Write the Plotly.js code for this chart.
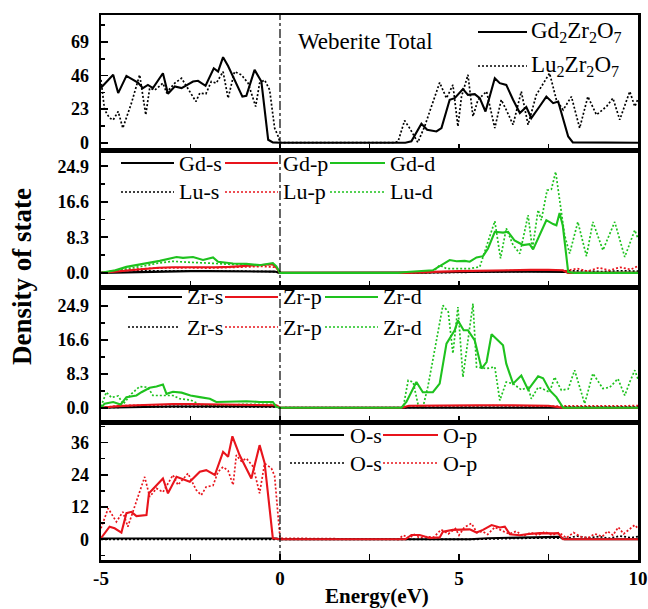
<!DOCTYPE html>
<html>
<head>
<meta charset="utf-8">
<script src="https://cdn.plot.ly/plotly-3.0.1.min.js"></script>
<style>html,body{margin:0;padding:0;background:#fff;}#chart{width:648px;height:609px;}</style>
</head>
<body>
<div id="chart"></div>
<script>
// ---------- Panel 1: total DOS ----------
const gdTot_x = [-5,-4.66,-4.52,-4.29,-3.97,-3.83,-3.69,-3.55,-3.27,-3.13,-2.94,-2.75,-2.43,-2.29,-2.08,-1.85,-1.73,-1.59,-1.45,-1.27,-1.05,-0.94,-0.71,-0.52,-0.33,-0.2,0,3.5,3.67,3.95,4.11,4.37,4.51,4.74,4.88,5.11,5.25,5.44,5.58,5.74,6.0,6.14,6.32,6.51,6.70,6.88,7.02,7.25,7.44,7.63,7.77,8.05,8.18,10];
const gdTot_y = [37.6,46.5,34,45.8,41.2,37.4,39.6,37.4,47.6,33.5,38.5,37.4,41.9,42.4,39,51,48.7,58.6,52.6,43.5,31.6,32.1,49.9,41.9,2,0.2,0,0,0.9,13,8.9,7.7,10,29.4,30.5,36.7,32.8,33.3,30.5,21.4,44.2,40.8,39.6,29.4,20.3,24.4,16.9,24.8,31.6,27.1,28.2,4.3,0.2,0];
const luTot_x = [-5,-4.9,-4.76,-4.66,-4.52,-4.39,-4.15,-3.92,-3.75,-3.64,-3.5,-3.27,-3.17,-2.94,-2.75,-2.57,-2.35,-2.24,-2.07,-1.92,-1.78,-1.59,-1.45,-1.27,-1.08,-0.89,-0.68,-0.57,-0.43,-0.29,-0.15,-0.05,0,3.2,3.30,3.48,3.62,3.85,4.04,4.23,4.46,4.65,4.83,4.97,5.07,5.25,5.39,5.53,5.77,6.0,6.18,6.32,6.51,6.74,6.93,7.16,7.35,7.53,7.72,7.91,8.14,8.37,8.60,8.84,9.12,9.30,9.49,9.77,9.91,10];
const luTot_y = [43,22.5,16.9,15.6,21.4,10,27.1,46.5,19.1,37.4,36,40.8,34.4,40.8,44.2,37.4,28.2,34,33.5,41.9,40.8,48.7,30.5,48.7,46.5,40.8,24.8,40.8,43,36.2,10,4.3,0,0,0.9,15.2,10,0.2,11.1,24.8,41.2,30.5,39.6,11.1,31.6,46.5,18,29.4,35.1,10,29.4,22.5,12.3,35.1,12.3,32.8,40.8,47.6,29.4,22.5,31.6,10,31.6,19.1,24.8,30.5,15.7,35.1,24.8,30];

// ---------- Panel 2: Gd / Lu ----------
const gdS_x = [-5,-4.5,-4,-3.5,-3,-2.5,-2,-1.5,-1,-0.5,-0.15,0,3.5,4,5,6,7,8,8.1,10];
const gdS_y = [0,0.1,0.2,0.3,0.4,0.4,0.4,0.35,0.3,0.3,0.3,0,0,0.1,0.2,0.3,0.3,0.2,0,0];
const gdP_x = [-5,-4.6,-4.2,-3.8,-3.4,-3.0,-2.6,-2.2,-1.8,-1.4,-1.0,-0.6,-0.2,-0.1,0,3.5,4.0,4.5,5.0,5.5,6.0,6.5,7.0,7.5,7.9,8.05,10];
const gdP_y = [0,0.3,0.7,1.0,1.2,1.3,1.3,1.2,1.3,1.4,1.6,1.8,2.0,1.2,0,0,0.2,0.3,0.4,0.5,0.6,0.6,0.7,0.7,0.6,0,0];
const gdD_x = [-5,-4.6,-4.29,-3.8,-3.36,-2.89,-2.71,-2.43,-2.15,-1.87,-1.73,-1.31,-0.94,-0.57,-0.2,-0.1,0,3.3,3.53,4.27,4.74,4.93,5.16,5.30,5.49,5.67,5.81,6.0,6.23,6.37,6.55,6.79,6.97,7.07,7.44,7.63,7.72,7.81,7.9,8.05,8.2,10];
const gdD_y = [0,0.6,1.4,2.1,2.8,3.7,3.5,3.7,3.0,3.6,2.6,2.2,2.1,1.8,2.3,1.5,0,0,0.2,0.6,3.0,2.7,2.8,2.6,3.6,3.9,5.7,9.6,9.4,9.6,7.6,6.5,6.7,5.5,12.3,11.4,11.1,14.0,11,0.2,0,0];
const luS_x = [-5,-4.5,-4,-3,-2,-1,-0.2,0,4,5,6,7,8,8.5,9,9.5,10];
const luS_y = [0,0.6,0.5,0.5,0.4,0.4,0.3,0,0,0.1,0.2,0.2,0.3,0.5,0.3,0.5,0.4];
const luP_x = [-5,-4.5,-4,-3.5,-3,-2.5,-2,-1.5,-1,-0.5,-0.1,0,4,4.5,5,5.5,6,6.5,7,7.5,8,8.3,8.6,8.9,9.2,9.5,9.8,10];
const luP_y = [0,0.5,0.9,1.1,1.2,1.2,1.1,1.2,1.3,1.5,1.3,0,0,0.2,0.3,0.4,0.5,0.5,0.6,0.6,0.5,1.0,0.4,1.2,0.6,1.3,0.8,1.6];
const luD_x = [-5,-4.6,-4.2,-3.8,-3.4,-3.0,-2.6,-2.2,-1.8,-1.4,-1.0,-0.6,-0.2,-0.1,0,4.0,4.27,4.46,4.65,4.93,5.30,5.58,5.77,6.0,6.16,6.32,6.51,6.70,6.93,7.05,7.21,7.30,7.46,7.58,7.70,7.81,7.95,8.09,8.32,8.56,8.74,9.02,9.35,9.63,9.91,10];
const luD_y = [0,0.5,1.0,1.6,2.3,2.7,2.5,2.4,2.2,2.0,1.9,1.8,2.0,1.2,0,0,0.2,1.8,1.0,1.0,1.0,1.4,6.1,12.1,3.4,10.4,6.5,4.5,13.5,5.5,14.7,12.3,19.3,19.5,23.6,16.6,8.8,4.5,11.9,3.9,11.9,5.3,11.9,3.7,10,8];

// ---------- Panel 3: Zr ----------
const zrS_x = [-5,-4,-3,-2,-1,-0.1,0,3.5,5,7,7.9,10];
const zrS_y = [0,0.2,0.3,0.3,0.3,0.3,0,0,0.1,0.1,0,0];
const zrP_x = [-5,-4.5,-4,-3.5,-3,-2.5,-2,-1.5,-1,-0.5,-0.1,0,3.4,3.6,4.5,5.5,6.5,7.5,7.9,10];
const zrP_y = [0,0.4,0.6,0.8,0.9,0.9,0.8,0.7,0.6,0.6,0.6,0,0,0.5,0.6,0.6,0.6,0.5,0,0];
const zrD_x = [-5,-4.9,-4.66,-4.45,-4.29,-4.01,-3.87,-3.64,-3.45,-3.27,-3.17,-2.99,-2.75,-2.5,-2.24,-1.96,-1.78,-1.31,-0.94,-0.57,-0.2,-0.1,0,3.39,3.53,3.81,3.99,4.27,4.46,4.65,4.88,4.97,5.13,5.25,5.44,5.63,5.77,5.91,6.04,6.23,6.32,6.51,6.74,6.93,7.21,7.35,7.53,7.72,7.91,10];
const zrD_y = [0,1.0,1.4,0.8,2.6,3.0,3.8,4.9,5.2,5.7,3.4,3.9,3.7,3.0,2.6,2.2,1.4,1.6,1.6,1.4,1.4,0.2,0,0,1.4,6.3,3.8,3.8,5.9,15.7,19.0,21.4,19.0,19.0,16.5,9.6,11.2,18.0,17.0,15.3,10.8,5.9,7.9,4.4,7.7,7.2,4.3,2.6,0,0];
const luZrS_x = [-5,-4,-3,-2,-1,-0.1,0,3.5,5,7,8,9,10];
const luZrS_y = [0,0.2,0.2,0.2,0.2,0.2,0,0,0.1,0.1,0.2,0.2,0.2];
const luZrP_x = [-5,-4.5,-4,-3.5,-3,-2.5,-2,-1.5,-1,-0.5,-0.1,0,3.5,4,5,6,7,8,9,10];
const luZrP_y = [0,0.5,0.6,0.7,0.7,0.7,0.6,0.5,0.5,0.5,0.5,0,0,0.4,0.5,0.5,0.4,0.4,0.4,0.5];
const luZrD_x = [-5,-4.85,-4.71,-4.52,-4.38,-4.15,-3.92,-3.69,-3.55,-3.27,-2.99,-2.8,-2.5,-2.24,-1.78,-1.05,-0.2,-0.1,0,3.44,3.58,3.72,3.86,3.99,4.13,4.37,4.55,4.70,4.83,4.97,5.11,5.25,5.39,5.49,5.77,6.0,6.14,6.32,6.51,6.74,6.93,7.02,7.21,7.35,7.53,7.67,7.86,8.05,8.23,8.51,8.74,9.02,9.21,9.44,9.63,9.77,9.91,10];
const luZrD_y = [0.3,3.8,2.5,2.9,0.9,3.4,5.2,5.0,3.0,3.0,3.0,2.2,1.9,0.8,0.5,0.8,0.8,0.4,0,0,6.7,6.3,0.6,0,5.1,16.5,25.1,23.5,13.3,24.7,7.5,16.5,25.5,10,9.6,10,1.8,6.3,5.9,4.4,5.0,2.2,5.0,4.6,3.8,7.5,4.3,4.6,9.2,1.0,8.4,4.7,5.0,7.1,3.0,6.3,9.2,7];

// ---------- Panel 4: O ----------
const osG_x = [-5,-0.1,0,5.3,5.8,6.5,7.2,7.8,7.95,10];
const osG_y = [0.3,0.3,0,0,0.4,0.6,0.9,0.9,0,0];
const opG_x = [-5,-4.76,-4.62,-4.43,-4.29,-4.15,-4.01,-3.73,-3.66,-3.27,-3.13,-2.89,-2.52,-2.24,-2.06,-1.82,-1.59,-1.45,-1.33,-1.13,-0.80,-0.57,-0.43,-0.2,0,3.5,3.67,3.9,4.18,4.46,4.55,4.83,5.30,5.49,5.67,5.91,6.14,6.28,6.42,6.70,6.88,7.25,7.63,7.77,7.91,10];
const opG_y = [0.4,4.7,4.1,2.5,9.7,10.2,8.6,9.0,17.1,22.6,17.1,23.2,21.4,25.1,25.7,23.9,32.5,30.7,38.3,31.3,22.6,35.0,28.4,0.4,0,0,1.6,1.6,0.5,0.7,2.8,3.5,3.7,2.5,3.5,5.3,4.4,4.7,1.9,1.5,1.9,2.3,2.2,2.3,0,0];
const osL_x = [-5,-0.1,0,5.5,6.5,7.5,8.0,8.3,8.6,8.9,9.2,9.5,9.8,10];
const osL_y = [0,0,0,0,0.3,0.5,0.3,1.2,0.5,1.0,0.4,1.2,0.6,1.0];
const opL_x = [-5,-4.8,-4.57,-4.39,-4.25,-4.06,-3.87,-3.78,-3.64,-3.45,-3.27,-2.99,-2.85,-2.57,-2.34,-2.2,-2.06,-1.87,-1.73,-1.59,-1.45,-1.31,-1.22,-1.08,-0.94,-0.75,-0.57,-0.43,-0.24,-0.15,0,3.3,3.45,3.6,3.75,3.9,4.1,4.3,4.5,4.7,4.9,5.0,5.15,5.35,5.5,5.65,5.8,6.0,6.2,6.4,6.6,6.8,7.0,7.2,7.4,7.6,7.8,8.0,8.2,8.4,8.6,8.8,9.0,9.15,9.3,9.45,9.6,9.75,9.91,10];
const opL_y = [4.1,11.5,6.5,10.2,4.7,12.1,18.9,23.2,15.8,18.9,17.5,23.9,20.2,24.5,18.3,16.4,19.5,20.0,25.1,26.9,25.5,20.2,31.3,29.0,30.1,27.0,17.1,28.2,26.4,23.5,0.4,0,1.5,0.4,1.8,0.5,1.0,0.8,3.6,2.0,4.0,1.5,4.5,5.9,2.5,3.0,1.8,4.5,3.2,2.0,3.0,1.2,2.5,1.5,2.8,1.5,2.5,0.5,2.5,1.0,0.5,2.0,1.0,3.0,1.5,4.5,2.0,3.5,5.3,4];

// ---------- tick labels ----------
const xTickVals = [-5,0,5,10];
const xTickText = ['-5','0','5','10'];
const y1Ticks = [0,23,46,69];
const y23Ticks = [0,8.3,16.6,24.9];
const y23Text = ['0.0','8.3','16.6','24.9'];
const y4Ticks = [0,12,24,36];

// ---------- styling ----------
const BLACK = '#000000', RED = '#e8141c', GREEN = '#1ec21e';
const SERIF = 'Liberation Serif, Times New Roman, serif';
const DOT = '2px,2px';

function tr(x, y, color, dotted, ax) {
  return {x: x, y: y, type: 'scatter', mode: 'lines', xaxis: 'x' + ax, yaxis: 'y' + ax,
    line: {color: color, width: dotted ? 1.7 : 2.1, dash: dotted ? DOT : 'solid'},
    showlegend: false, hoverinfo: 'skip'};
}

const data = [
  tr(luTot_x, luTot_y, BLACK, true, ''), tr(gdTot_x, gdTot_y, BLACK, false, ''),
  tr(luS_x, luS_y, BLACK, true, 2), tr(luP_x, luP_y, RED, true, 2), tr(luD_x, luD_y, GREEN, true, 2),
  tr(gdS_x, gdS_y, BLACK, false, 2), tr(gdP_x, gdP_y, RED, false, 2), tr(gdD_x, gdD_y, GREEN, false, 2),
  tr(luZrS_x, luZrS_y, BLACK, true, 3), tr(luZrP_x, luZrP_y, RED, true, 3), tr(luZrD_x, luZrD_y, GREEN, true, 3),
  tr(zrS_x, zrS_y, BLACK, false, 3), tr(zrP_x, zrP_y, RED, false, 3), tr(zrD_x, zrD_y, GREEN, false, 3),
  tr(osL_x, osL_y, BLACK, true, 4), tr(opL_x, opL_y, RED, true, 4),
  tr(osG_x, osG_y, BLACK, false, 4), tr(opG_x, opG_y, RED, false, 4)
];

const tickFont = {family: SERIF, size: 18, color: BLACK, weight: 'bold'};

function xAxis(anchor, labels) {
  return {range: [-5, 10], anchor: anchor, showline: true, mirror: true, linewidth: 2.5, linecolor: BLACK,
    ticks: 'inside', ticklen: 6, tickwidth: 1.8, tickcolor: BLACK,
    tickmode: 'array', tickvals: xTickVals, ticktext: xTickText,
    minor: {ticks: 'inside', ticklen: 6, tickwidth: 1.8, tickcolor: BLACK, dtick: 2.5, tick0: 0, showgrid: false},
    showticklabels: labels, tickfont: {family: SERIF, size: 19, color: BLACK, weight: 'bold'},
    showgrid: false, zeroline: false, fixedrange: true};
}
function yAxis(domain, range, vals, text, minorStep, anchor) {
  return {domain: domain, range: range, anchor: anchor, showline: true, mirror: true,
    linewidth: 2.5, linecolor: BLACK, ticks: 'inside', ticklen: 7, tickwidth: 1.8, tickcolor: BLACK,
    tickmode: 'array', tickvals: vals, ticktext: text, tickfont: tickFont, ticklabelstandoff: 6,
    minor: {ticks: 'inside', ticklen: 4, tickwidth: 1.5, tickcolor: BLACK, dtick: minorStep, tick0: 0, showgrid: false},
    showgrid: false, zeroline: false, fixedrange: true};
}

// pixel -> paper helpers for legend decorations
const PL = 101, PR = 638, PT = 15, PB = 560;
const px = v => (v - PL) / (PR - PL);
const py = v => (PB - v) / (PB - PT);

const shapes = [];
const annotations = [];
const LEGSIZE = 22;
function legLine(x0, x1, y, color, dotted) {
  shapes.push({type: 'line', xref: 'paper', yref: 'paper', x0: px(x0), x1: px(x1), y0: py(y), y1: py(y),
    line: {color: color, width: dotted ? 1.7 : 2.1, dash: dotted ? DOT : 'solid'}});
}
function legText(x, y, text, size) {
  annotations.push({xref: 'paper', yref: 'paper', x: px(x), y: py(y), xanchor: 'left', yanchor: 'middle',
    text: text, showarrow: false, font: {family: SERIF, size: size || LEGSIZE, color: BLACK}});
}

// vertical dash-dot Fermi line
shapes.push({type: 'line', xref: 'x', yref: 'paper', x0: 0, x1: 0, y0: 0, y1: 1,
  line: {color: BLACK, width: 1.2, dash: 'dashdot'}});

// panel 1 legend
legLine(478, 527, 32, BLACK, false); legText(529, 32, 'Gd<sub>2</sub>Zr<sub>2</sub>O<sub>7</sub>', 23);
legLine(478, 527, 66, BLACK, true);  legText(529, 66, 'Lu<sub>2</sub>Zr<sub>2</sub>O<sub>7</sub>', 23);
legText(296, 41, 'Weberite Total', 23);
// panel 2 legend
legLine(121, 174, 163, BLACK, false); legText(177, 163, 'Gd-s');
legLine(225, 278, 163, RED, false);   legText(281, 163, 'Gd-p');
legLine(330, 385, 163, GREEN, false); legText(388, 163, 'Gd-d');
legLine(121, 174, 192, BLACK, true);  legText(177, 192, 'Lu-s');
legLine(225, 278, 192, RED, true);    legText(281, 192, 'Lu-p');
legLine(330, 385, 192, GREEN, true);  legText(388, 192, 'Lu-d');
// panel 3 legend
legLine(128, 182, 297, BLACK, false); legText(185, 297, 'Zr-s');
legLine(225, 278, 297, RED, false);   legText(281, 297, 'Zr-p');
legLine(325, 378, 297, GREEN, false); legText(381, 297, 'Zr-d');
legLine(128, 180, 327, BLACK, true);  legText(185, 327, 'Zr-s');
legLine(225, 278, 327, RED, true);    legText(281, 327, 'Zr-p');
legLine(325, 378, 327, GREEN, true);  legText(381, 327, 'Zr-d');
// panel 4 legend
legLine(290, 344, 435, BLACK, false); legText(348, 435, 'O-s');
legLine(383, 438, 435, RED, false);   legText(441, 435, 'O-p');
legLine(290, 344, 463, BLACK, true);  legText(348, 463, 'O-s');
legLine(383, 438, 463, RED, true);    legText(441, 463, 'O-p');

// axis titles
annotations.push({xref: 'paper', yref: 'paper', x: px(22), y: py(277), xanchor: 'center', yanchor: 'middle',
  textangle: -90, text: 'Density of state', showarrow: false,
  font: {family: SERIF, size: 27, color: BLACK, weight: 'bold'}});
annotations.push({xref: 'paper', yref: 'paper', x: px(377), y: py(596), xanchor: 'center', yanchor: 'middle',
  text: 'Energy(eV)', showarrow: false,
  font: {family: SERIF, size: 21, color: BLACK, weight: 'bold'}});

const d4 = [0, py(422)], d3 = [py(422), py(287)], d2 = [py(287), py(150)], d1 = [py(150), 1];

const layout = {
  width: 648, height: 609,
  margin: {l: PL, r: 648 - PR, t: PT, b: 609 - PB, pad: 0},
  paper_bgcolor: '#ffffff', plot_bgcolor: '#ffffff',
  showlegend: false,
  font: {family: SERIF, color: BLACK},
  xaxis: xAxis('y', false),
  xaxis2: Object.assign(xAxis('y2', false), {matches: 'x'}),
  xaxis3: Object.assign(xAxis('y3', false), {matches: 'x'}),
  xaxis4: Object.assign(xAxis('y4', true), {matches: 'x'}),
  yaxis: yAxis(d1, [-5, 87.5], y1Ticks, y1Ticks.map(String), 11.5, 'x'),
  yaxis2: yAxis(d2, [-3.3, 28.7], y23Ticks, y23Text, 4.15, 'x2'),
  yaxis3: yAxis(d3, [-3.5, 29.6], y23Ticks, y23Text, 4.15, 'x3'),
  yaxis4: yAxis(d4, [-7.7, 43.6], y4Ticks, y4Ticks.map(String), 6, 'x4'),
  shapes: shapes,
  annotations: annotations
};

Plotly.newPlot('chart', data, layout, {staticPlot: true, displayModeBar: false});
</script>
</body>
</html>
